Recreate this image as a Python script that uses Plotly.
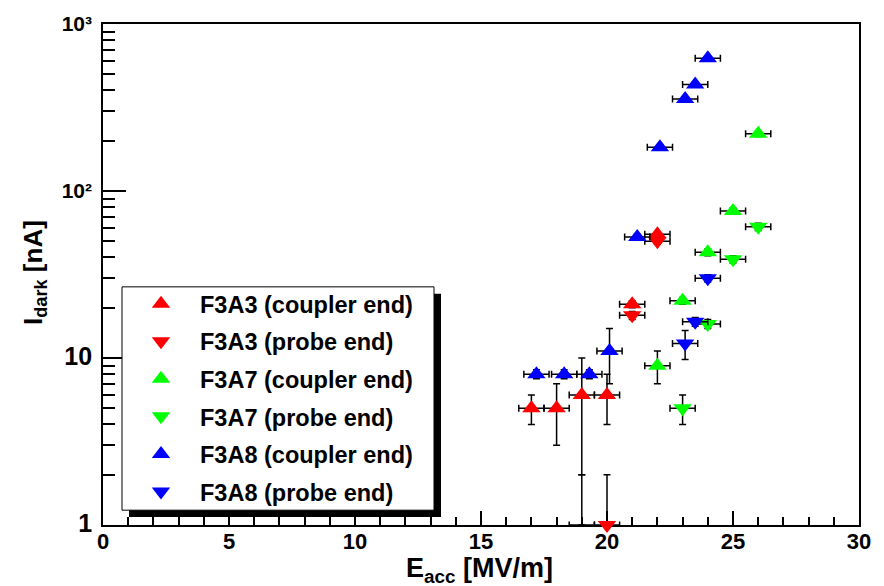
import plotly.graph_objects as go

# Dark current vs. accelerating gradient for three cavities (coupler / probe end)
# ---------------------------------------------------------------------------
# F3A3
f3a3_coupler_e = [17, 18, 19, 20, 21, 22]
f3a3_coupler_i = [5, 5, 6, 6, 21, 55]
f3a3_coupler_err = [1, 2, 4, 2, 1, 2]

f3a3_probe_e = [19, 20, 21, 22]
f3a3_probe_i = [0, 1, 18, 50]
f3a3_probe_err = [2, 1, 1, 2]

# F3A7
f3a7_coupler_e = [22, 23, 24, 25, 26]
f3a7_coupler_i = [9, 22, 43, 76, 220]
f3a7_coupler_err = [2, 1, 2, 3, 8]

f3a7_probe_e = [23, 24, 25, 26]
f3a7_probe_i = [5, 16, 39, 61]
f3a7_probe_err = [1, 1, 2, 3]

# F3A8
f3a8_coupler_e = [17.2, 18.3, 19.3, 20.1, 21.2, 22.1, 23.1, 23.5, 24.0]
f3a8_coupler_i = [8, 8, 8, 11, 53, 183, 355, 434, 623]
f3a8_coupler_err = [0.5, 0.5, 0.5, 4, 2, 6, 10, 12, 20]

f3a8_probe_e = [23.1, 23.5, 24.0]
f3a8_probe_i = [12.2, 16.5, 30]
f3a8_probe_err = [2.4, 1, 1.5]

E_ERR = 0.5  # MV/m, same for every point

series_names = [
    "F3A3 (coupler end)", "F3A3 (probe end)",
    "F3A7 (coupler end)", "F3A7 (probe end)",
    "F3A8 (coupler end)", "F3A8 (probe end)",
]
series_data = [
    (f3a3_coupler_e, f3a3_coupler_i, f3a3_coupler_err),
    (f3a3_probe_e, f3a3_probe_i, f3a3_probe_err),
    (f3a7_coupler_e, f3a7_coupler_i, f3a7_coupler_err),
    (f3a7_probe_e, f3a7_probe_i, f3a7_probe_err),
    (f3a8_coupler_e, f3a8_coupler_i, f3a8_coupler_err),
    (f3a8_probe_e, f3a8_probe_i, f3a8_probe_err),
]
series_colors = ["#ff0000", "#ff0000", "#00ff00", "#00ff00", "#0000ff", "#0000ff"]
series_symbols = ["triangle-up", "triangle-down"] * 3

Y_MIN, Y_MAX = 1, 1000
X_MIN, X_MAX = 0, 30

# figure geometry (pixels)
W, H = 884, 586
ML, MR, MT, MB = 103, 25, 18, 61
PW, PH = W - ML - MR, H - MT - MB


def paper_x(px):
    return (px - ML) / PW


def paper_y(py):
    return (H - MB - py) / PH


def clipped_to_axis(e, i, err):
    """Split points into those on the log axis and those below it; error bars
    of the latter are drawn from the axis floor up to their upper end."""
    shown, below = [], []
    for x, y, s in zip(e, i, err):
        y_draw = max(y, Y_MIN)
        lo = max(y - s, Y_MIN)
        hi = y + s
        rec = (x, y_draw, max(hi - y_draw, 0), y_draw - lo)
        (shown if y >= Y_MIN else below).append(rec)
    return shown, below


fig = go.Figure()
MARKER_SIZE = 16
ERR_STYLE = dict(color="black", thickness=1.5, width=3.5)

for k, (name, (e, i, err), col, sym) in enumerate(
        zip(series_names, series_data, series_colors, series_symbols)):
    shown, below = clipped_to_axis(e, i, err)
    for pts, is_main in ((shown, True), (below, False)):
        if not pts:
            continue
        xs = [p[0] for p in pts]
        ys = [p[1] for p in pts]
        fig.add_trace(go.Scatter(
            x=xs, y=ys, mode="markers", name=name,
            legendgroup=f"g{k}", showlegend=is_main,
            marker=dict(symbol=sym, size=MARKER_SIZE, color=col,
                        opacity=1 if is_main else 0),
            error_x=dict(type="constant", value=E_ERR, **ERR_STYLE),
            error_y=dict(type="data", symmetric=False,
                         array=[p[2] for p in pts],
                         arrayminus=[p[3] for p in pts], **ERR_STYLE),
            cliponaxis=False,
            hoverinfo="x+y+name",
        ))

FONT = "Liberation Sans, Arial, Helvetica, sans-serif"

y_major = [1, 10, 100, 1000]
y_major_text = ['<span style="font-size:25px">1</span>',
                '<span style="font-size:25px">10</span>',
                "10\u00b2", "10\u00b3"]
y_minor = [m * d for d in (1, 10, 100) for m in range(2, 10)]

fig.update_layout(
    width=W, height=H,
    margin=dict(l=ML, r=MR, t=MT, b=MB, pad=0),
    paper_bgcolor="white", plot_bgcolor="white",
    font=dict(family=FONT, color="black"),
    showlegend=True,
    xaxis=dict(
        range=[X_MIN, X_MAX], showgrid=False, zeroline=False,
        showline=True, linecolor="black", linewidth=1.5, mirror=True,
        ticks="inside", ticklen=14, tickwidth=1.5, tickcolor="black",
        tick0=0, dtick=5,
        minor=dict(ticks="inside", ticklen=8, tickwidth=1.5,
                   tickcolor="black", dtick=1, showgrid=False),
        tickfont=dict(size=22, family=FONT, weight="bold"),
        ticklabelstandoff=-4,
        layer="below traces",
    ),
    yaxis=dict(
        type="log", range=[0, 3], showgrid=False, zeroline=False,
        showline=True, linecolor="black", linewidth=1.5, mirror=True,
        ticks="inside", ticklen=23, tickwidth=1.5, tickcolor="black",
        tickmode="array", tickvals=y_major, ticktext=y_major_text,
        minor=dict(ticks="inside", ticklen=12, tickwidth=1.5,
                   tickcolor="black", tickvals=y_minor, showgrid=False),
        tickfont=dict(size=21, family=FONT, weight="bold"),
        ticklabelstandoff=5,
        layer="below traces",
    ),
    legend=dict(
        x=paper_x(122), y=paper_y(279), xanchor="left", yanchor="top",
        bgcolor="rgba(0,0,0,0)", borderwidth=0,
        font=dict(size=23.5, family=FONT, weight="bold"),
        itemwidth=68, tracegroupgap=4, traceorder="grouped",
    ),
    shapes=[
        # legend shadow and box
        dict(type="rect", xref="paper", yref="paper",
             x0=paper_x(129), x1=paper_x(441), y0=paper_y(517), y1=paper_y(291),
             fillcolor="black", line=dict(width=0), layer="above"),
        dict(type="rect", xref="paper", yref="paper",
             x0=paper_x(122), x1=paper_x(434), y0=paper_y(510), y1=paper_y(284),
             fillcolor="white", line=dict(color="black", width=1), layer="above"),
    ],
    annotations=[
        dict(text="E<sub>acc</sub> [MV/m]", xref="paper", yref="paper",
             x=paper_x(479), y=paper_y(571), xanchor="center", yanchor="middle",
             showarrow=False, font=dict(size=27, family=FONT, weight="bold")),
        dict(text="I<sub>dark</sub> [nA]", xref="paper", yref="paper",
             x=paper_x(34), y=paper_y(270), xanchor="center", yanchor="middle",
             textangle=-90, showarrow=False,
             font=dict(size=26, family=FONT, weight="bold")),
    ],
)

fig.write_html("out.html")
